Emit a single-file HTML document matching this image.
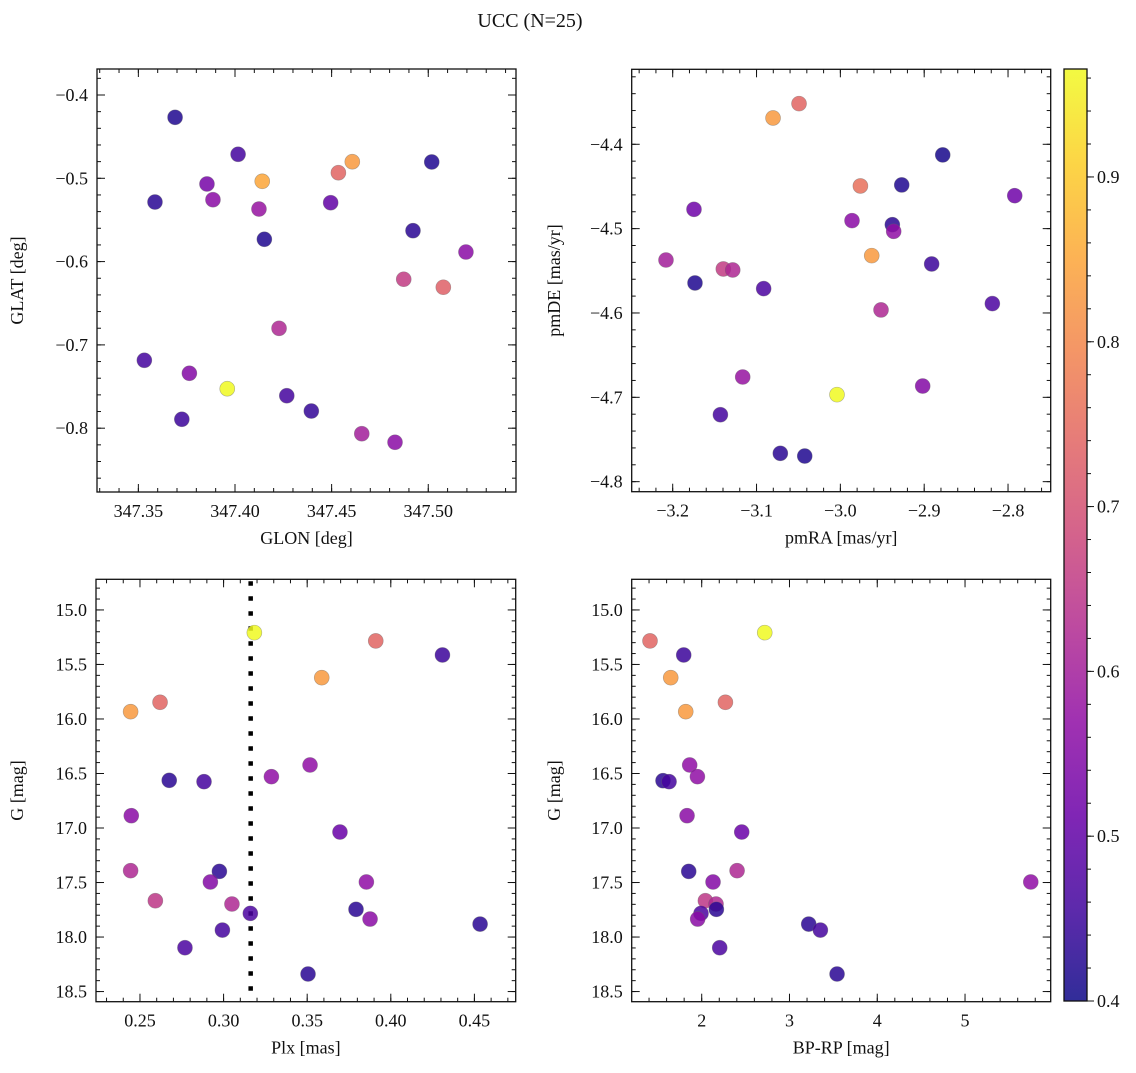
<!DOCTYPE html>
<html><head><meta charset="utf-8"><style>
body{margin:0;background:#fff;}
svg text{font-family:"Liberation Serif",serif;fill:#111;}
</style></head><body>
<svg id="fig" width="1136" height="1068" xmlns="http://www.w3.org/2000/svg">
<text x="530" y="27" font-size="20" font-family="Liberation Serif, serif" text-anchor="middle">UCC (N=25)</text>
</svg>
<script>
// Panel 1: GLON vs GLAT
const glonX=[347.369,347.4016,347.4607,347.4535,347.4141,347.5018,347.3855,347.3886,347.3586,347.4124,347.4495,347.4921,347.4152,347.5195,347.4873,347.5078,347.4228,347.3531,347.3764,347.3960,347.4268,347.4395,347.3725,347.4656,347.4828];
const glatY=[-0.4268,-0.4712,-0.4801,-0.4933,-0.5036,-0.4804,-0.5068,-0.5257,-0.5285,-0.5369,-0.5293,-0.5629,-0.5732,-0.5885,-0.6212,-0.6308,-0.6801,-0.7185,-0.7341,-0.7526,-0.7610,-0.7794,-0.7893,-0.8066,-0.8169];
const glC=[0.42,0.46,0.83,0.74,0.85,0.42,0.53,0.56,0.43,0.58,0.50,0.43,0.42,0.56,0.66,0.73,0.62,0.46,0.55,0.97,0.46,0.44,0.45,0.60,0.56];
// Panel 2: pmRA vs pmDE
const pmraX=[-3.0493,-3.0803,-2.8779,-2.9761,-2.9268,-2.7920,-3.1746,-2.9861,-2.9380,-2.9364,-2.9626,-3.2080,-3.1396,-3.1284,-2.8911,-3.1734,-3.0915,-2.8187,-2.9515,-3.1165,-3.0040,-2.9018,-3.1431,-3.0716,-3.0425];
const pmdeY=[-4.3518,-4.3688,-4.4126,-4.4494,-4.4482,-4.4609,-4.4771,-4.4905,-4.4953,-4.5032,-4.5320,-4.5372,-4.5478,-4.5490,-4.5419,-4.5644,-4.5711,-4.5889,-4.5964,-4.6759,-4.6968,-4.6866,-4.7206,-4.7664,-4.7696];
const pmC=[0.74,0.83,0.41,0.76,0.42,0.52,0.52,0.56,0.43,0.57,0.83,0.60,0.66,0.62,0.45,0.42,0.47,0.47,0.62,0.58,0.97,0.55,0.46,0.43,0.42];
// Panel 3: Plx vs G
const plxX=[0.3184,0.3910,0.4309,0.3587,0.2620,0.2444,0.3517,0.3286,0.2675,0.2883,0.2448,0.3696,0.2444,0.2975,0.2921,0.3854,0.2592,0.3050,0.3792,0.3160,0.3876,0.4534,0.2993,0.2769,0.3505];
const gY=[15.208,15.284,15.413,15.621,15.847,15.933,16.422,16.529,16.563,16.575,16.887,17.037,17.391,17.398,17.495,17.495,17.667,17.697,17.746,17.783,17.835,17.881,17.936,18.098,18.339];
const gC=[0.97,0.74,0.45,0.83,0.74,0.83,0.57,0.57,0.43,0.46,0.56,0.51,0.62,0.43,0.55,0.57,0.65,0.62,0.43,0.47,0.56,0.43,0.46,0.47,0.43];
const plxLine=0.3162;
// Panel 4: BP-RP vs G
const bprpX=[2.718,1.411,1.795,1.647,2.270,1.818,1.863,1.951,1.559,1.628,1.833,2.456,2.403,1.852,2.129,5.749,2.042,2.163,2.167,1.992,1.954,3.219,3.352,2.205,3.542];
const cmdY=[15.208,15.284,15.413,15.621,15.847,15.933,16.422,16.529,16.566,16.575,16.887,17.037,17.391,17.398,17.495,17.495,17.667,17.697,17.746,17.783,17.835,17.881,17.936,18.098,18.339];
const cmdC=[0.97,0.74,0.45,0.83,0.74,0.83,0.57,0.57,0.43,0.46,0.56,0.51,0.62,0.43,0.55,0.57,0.65,0.62,0.43,0.47,0.56,0.43,0.46,0.47,0.43];
// Tick arrays
const t1x=[347.35,347.40,347.45,347.50], t1xl=["347.35","347.40","347.45","347.50"];
const t1y=[-0.4,-0.5,-0.6,-0.7,-0.8], t1yl=["\u22120.4","\u22120.5","\u22120.6","\u22120.7","\u22120.8"];
const t2x=[-3.2,-3.1,-3.0,-2.9,-2.8], t2xl=["\u22123.2","\u22123.1","\u22123.0","\u22122.9","\u22122.8"];
const t2y=[-4.4,-4.5,-4.6,-4.7,-4.8], t2yl=["\u22124.4","\u22124.5","\u22124.6","\u22124.7","\u22124.8"];
const t3x=[0.25,0.30,0.35,0.40,0.45], t3xl=["0.25","0.30","0.35","0.40","0.45"];
const tGy=[15.0,15.5,16.0,16.5,17.0,17.5,18.0,18.5], tGyl=["15.0","15.5","16.0","16.5","17.0","17.5","18.0","18.5"];
const t4x=[2,3,4,5], t4xl=["2","3","4","5"];
const cbT=[0.4,0.5,0.6,0.7,0.8,0.9], cbTl=["0.4","0.5","0.6","0.7","0.8","0.9"];
const VMIN=0.4, VMAX=0.9655;

const FF="Liberation Serif, serif";
const NS="http://www.w3.org/2000/svg";
const svg=document.getElementById('fig');
function mk(tag,attrs,parent){const e=document.createElementNS(NS,tag);for(const k in attrs)e.setAttribute(k,attrs[k]);if(tag==='text')e.setAttribute('font-family',FF);(parent||svg).appendChild(e);return e;}
const stops=[[0,13,8,135],[0.1,65,4,157],[0.2,106,0,168],[0.3,143,13,164],[0.4,177,42,144],[0.5,204,71,120],[0.6,225,100,98],[0.7,242,132,75],[0.8,252,166,54],[0.9,252,206,37],[1,240,249,33]];
function plasma(c){let t=Math.max(0,Math.min(1,(c-VMIN)/(VMAX-VMIN)));for(let i=0;i<stops.length-1;i++){const a=stops[i],b=stops[i+1];if(t<=b[0]){const f=(t-a[0])/(b[0]-a[0]);return `rgb(${Math.round(a[1]+f*(b[1]-a[1]))},${Math.round(a[2]+f*(b[2]-a[2]))},${Math.round(a[3]+f*(b[3]-a[3]))})`;}}return 'rgb(240,249,33)';}

function minorTicks(lo,hi,step){const r=[];const s=Math.ceil(lo/step-1e-6);for(let k=s;k*step<=hi+1e-9;k++)r.push(k*step);return r;}

function panel(o){
  const g=mk('g',{},svg);
  
  
  const X=v=>o.L+(v-o.x0)/(o.x1-o.x0)*(o.R-o.L);
  const Y=v=>o.T+(o.y0-v)/(o.y0-o.y1)*(o.B-o.T);
  const tg=mk('g',{stroke:'#111','stroke-width':1},g);
  minorTicks(Math.min(o.x0,o.x1),Math.max(o.x0,o.x1),o.xm).forEach(v=>{const x=X(v);mk('line',{x1:x,x2:x,y1:o.B,y2:o.B-4},tg);mk('line',{x1:x,x2:x,y1:o.T,y2:o.T+4},tg);});
  minorTicks(Math.min(o.y0,o.y1),Math.max(o.y0,o.y1),o.ym).forEach(v=>{const y=Y(v);mk('line',{x1:o.L,x2:o.L+4,y1:y,y2:y},tg);mk('line',{x1:o.R,x2:o.R-4,y1:y,y2:y},tg);});
  o.tx.forEach((v,i)=>{const x=X(v);mk('line',{x1:x,x2:x,y1:o.B,y2:o.B-8},tg);mk('line',{x1:x,x2:x,y1:o.T,y2:o.T+8},tg);
    const t=mk('text',{x:x,y:o.B+25,'font-size':18,'text-anchor':'middle'},g);t.textContent=o.txl[i];
    
    });
  o.ty.forEach((v,i)=>{const y=Y(v);mk('line',{x1:o.L,x2:o.L+8,y1:y,y2:y},tg);mk('line',{x1:o.R,x2:o.R-8,y1:y,y2:y},tg);
    const t=mk('text',{x:o.L-9,y:y+6,'font-size':18,'text-anchor':'end'},g);t.textContent=o.tyl[i];
    
    });
  if(o.vline!==undefined){const x=X(o.vline);const l=mk('line',{x1:x,x2:x,y1:o.T+2,y2:o.B,stroke:'#000','stroke-width':4.5,'stroke-dasharray':'4.5 10.5'},g);
    
    }
  o.xs.forEach((v,i)=>{const c=mk('circle',{cx:X(v),cy:Y(o.ys[i]),r:7.5,fill:plasma(o.cs[i]),'fill-opacity':0.85,stroke:'#666','stroke-opacity':0.5,'stroke-width':0.6},g);
    
    });
  const f=mk('rect',{x:o.L,y:o.T,width:o.R-o.L,height:o.B-o.T,fill:'none',stroke:'#111','stroke-width':1.3},g);
  
  
  const xl=mk('text',{x:(o.L+o.R)/2,y:o.B+52,'font-size':18,'text-anchor':'middle'},g);xl.textContent=o.xlab;
  
  
  const yl=mk('text',{x:0,y:0,'font-size':18,'text-anchor':'middle',transform:`translate(${o.ylx},${(o.T+o.B)/2}) rotate(-90)`},g);yl.textContent=o.ylab;
  
  
}
panel({name:'glon-glat-panel',L:97,R:516,T:69,B:492,x0:347.3286,x1:347.5454,y0:-0.3688,y1:-0.8766,xm:0.01,ym:0.02,tx:t1x,txl:t1xl,ty:t1y,tyl:t1yl,xs:glonX,ys:glatY,cs:glC,xlab:'GLON [deg]',ylab:'GLAT [deg]',ylx:23});
panel({name:'proper-motion-panel',L:631.7,R:1050.7,T:69.3,B:491.7,x0:-3.2489,x1:-2.7491,y0:-4.3111,y1:-4.8119,xm:0.02,ym:0.02,tx:t2x,txl:t2xl,ty:t2y,tyl:t2yl,xs:pmraX,ys:pmdeY,cs:pmC,xlab:'pmRA [mas/yr]',ylab:'pmDE [mas/yr]',ylx:560});
panel({name:'plx-g-panel',L:96,R:515.7,T:579.3,B:1001.7,x0:0.2237,x1:0.4747,y0:14.719,y1:18.593,xm:0.01,ym:0.1,tx:t3x,txl:t3xl,ty:tGy,tyl:tGyl,xs:plxX,ys:gY,cs:gC,vline:plxLine,xlab:'Plx [mas]',ylab:'G [mag]',ylx:23});
panel({name:'cmd-panel',L:631.7,R:1050.7,T:579.3,B:1001.7,x0:1.2024,x1:5.976,y0:14.719,y1:18.593,xm:0.2,ym:0.1,tx:t4x,txl:t4xl,ty:tGy,tyl:tGyl,xs:bprpX,ys:cmdY,cs:cmdC,xlab:'BP-RP [mag]',ylab:'G [mag]',ylx:560});

const defs=mk('defs',{});
const lg=mk('linearGradient',{id:'pg',x1:0,y1:1,x2:0,y2:0},defs);
for(let i=0;i<=20;i++){const c=VMIN+(VMAX-VMIN)*i/20;mk('stop',{offset:i/20,'stop-color':plasma(c),'stop-opacity':0.85},lg);}
const cbL=1064,cbR=1087,cbT0=69,cbB=1001;
const cb=mk('g',{});


mk('rect',{x:cbL,y:cbT0,width:cbR-cbL,height:cbB-cbT0,fill:'url(#pg)'},cb);
mk('rect',{x:cbL,y:cbT0,width:cbR-cbL,height:cbB-cbT0,fill:'none',stroke:'#111','stroke-width':1.3},cb);
const CY=v=>cbB-(v-VMIN)/(VMAX-VMIN)*(cbB-cbT0);
minorTicks(VMIN,VMAX,0.02).forEach(v=>{mk('line',{x1:cbR,x2:cbR+4,y1:CY(v),y2:CY(v),stroke:'#111'},cb);});
cbT.forEach((v,i)=>{mk('line',{x1:cbR,x2:cbR+7,y1:CY(v),y2:CY(v),stroke:'#111'},cb);
  const t=mk('text',{x:cbR+10,y:CY(v)+6,'font-size':18},cb);t.textContent=cbTl[i];
  
  });
</script>
</body></html>
